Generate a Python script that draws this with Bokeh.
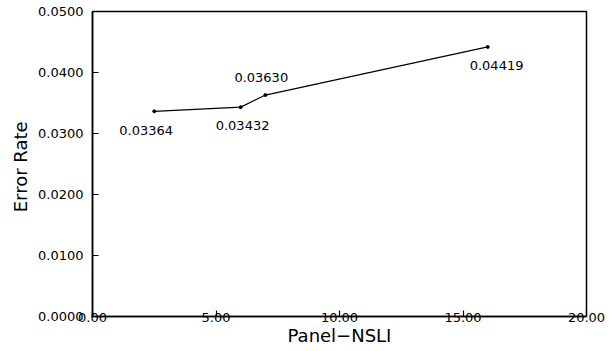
from bokeh.plotting import figure
from bokeh.models import Range1d, FixedTicker, PrintfTickFormatter, ColumnDataSource
from bokeh.core.properties import value
from bokeh.embed import file_html
from bokeh.resources import INLINE

# Data
panel_nsli = [2.5, 6.0, 7.0, 16.0]
error_rate = [0.03364, 0.03432, 0.03630, 0.04419]
point_labels = ["0.03364", "0.03432", "0.03630", "0.04419"]
x_ticks = [0, 5, 10, 15, 20]
y_ticks = [0.0, 0.01, 0.02, 0.03, 0.04, 0.05]

FONT = "DejaVu Sans"

p = figure(width=610, height=351, output_backend="svg", toolbar_location=None,
           x_range=Range1d(0, 20), y_range=Range1d(0, 0.05),
           min_border_left=92, min_border_right=24, min_border_top=11, min_border_bottom=35)

p.background_fill_color = "white"
p.border_fill_color = "white"
p.outline_line_color = "black"
p.outline_line_width = 1.5
p.xgrid.visible = False
p.ygrid.visible = False

for ax in (p.xaxis[0], p.yaxis[0]):
    ax.axis_line_color = "black"
    ax.axis_line_width = 1.5
    ax.major_tick_in = 6
    ax.major_tick_out = 0
    ax.major_tick_line_color = "black"
    ax.major_tick_line_width = 1.2
    ax.minor_tick_line_color = None
    ax.major_label_text_font = FONT
    ax.major_label_text_font_size = "13px"
    ax.major_label_text_color = "black"
    ax.axis_label_text_font = FONT
    ax.axis_label_text_font_style = "normal"
    ax.axis_label_text_font_size = "18px"
    ax.axis_label_text_color = "black"

p.xaxis.ticker = FixedTicker(ticks=x_ticks)
p.yaxis.ticker = FixedTicker(ticks=y_ticks)
p.xaxis.formatter = PrintfTickFormatter(format="%.2f")
p.yaxis.formatter = PrintfTickFormatter(format="%.4f")
p.xaxis.axis_label = "Panel\u2212NSLI"
p.yaxis.axis_label = "Error  Rate"
p.xaxis.major_label_standoff = -4
p.xaxis.axis_label_standoff = 0
p.yaxis.major_label_standoff = 9
p.yaxis.axis_label_standoff = 4

src = ColumnDataSource(dict(x=panel_nsli, y=error_rate, t=point_labels,
                            xo=[-35, -25, -31, -18], yo=[19, 18, -18, 19]))
p.line("x", "y", source=src, line_color="black", line_width=1.2)
p.scatter("x", "y", source=src, size=3, color="black")
p.text("x", "y", text="t", source=src, x_offset="xo", y_offset="yo",
       text_font=value(FONT), text_font_size="13px", text_color="black",
       text_align="left", text_baseline="middle")

open("out.html", "w").write(file_html(p, INLINE))
